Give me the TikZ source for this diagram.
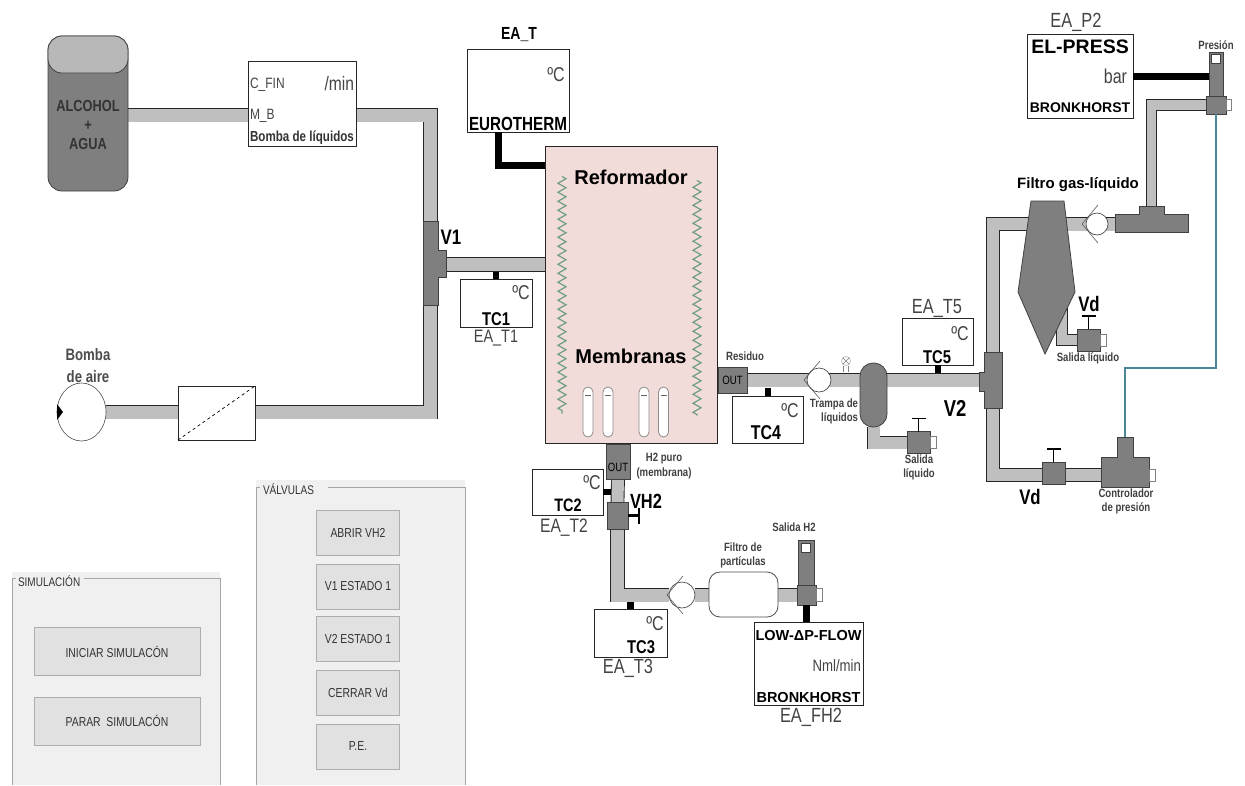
\documentclass[tikz,border=0pt]{standalone}
\usepackage{fontspec}
\setmainfont{Liberation Sans}
\newfontfamily\narrowfont[FakeStretch=0.8]{Liberation Sans}
\usetikzlibrary{backgrounds,decorations.pathmorphing,shapes.geometric}
\definecolor{pipegray}{HTML}{BFBFBF}
\definecolor{bodygray}{HTML}{7F7F7F}
\definecolor{capgray}{HTML}{B8B8B8}
\definecolor{reformpink}{HTML}{F2DCD9}
\definecolor{coilgreen}{HTML}{6E9F80}
\definecolor{linkblue}{HTML}{4C8798}
\definecolor{panelgray}{HTML}{F0F0F0}
\definecolor{buttongray}{HTML}{E1E1E1}
\definecolor{tagdark}{HTML}{444444}
\newcommand{\fs}[1]{\fontsize{#1}{#1}\selectfont}
\tikzset{
  every node/.style={inner sep=0pt,outer sep=0pt},
  pipe/.style={draw=black!85,line width=.9pt,double=pipegray,double distance=13pt,line join=miter},
  cable/.style={draw=black,line width=7pt},
  box/.style={draw=black!85,fill=white,line width=.8pt,rectangle},
  block/.style={draw=black!75,fill=bodygray,line width=.8pt,rectangle},
  outblock/.style={block,font=\narrowfont\fs{12}},
  capbox/.style={draw=black!50,fill=white,line width=.5pt,minimum width=6pt,minimum height=12pt},
  handle/.style={draw=black,line width=1.6pt},
  coil/.style={draw=coilgreen,line width=1.2pt,decorate,decoration={zigzag,amplitude=4pt,segment length=9pt}},
  title/.style={font=\bfseries\fs{20}},
  tag/.style={font=\narrowfont\fs{20.5},text=tagdark},
  unit/.style={font=\narrowfont\fs{20},text=tagdark},
  tcname/.style={font=\narrowfont\bfseries\fs{18.5}},
  vlabel/.style={font=\narrowfont\bfseries\fs{21}},
  small/.style={font=\narrowfont\bfseries\fs{12},text=black!75,align=center},
  button/.style={draw=black!32,fill=buttongray,line width=.8pt,font=\narrowfont\fs{13},text=black!80},
  panel/.style={draw=none,fill=panelgray},
  frameline/.style={draw=black!35,line width=.7pt},
}
\begin{document}
\begin{tikzpicture}[x=1pt,y=-1pt]
  \useasboundingbox (0,0) rectangle (1245,785);

  % deposito y bomba de liquidos
  \node[block,rounded corners=14pt,minimum width=80pt,minimum height=155pt] (tank) at (88,113.5) {};
  \node[draw=black!75,fill=capgray,line width=.8pt,rounded corners=14pt,minimum width=80pt,minimum height=37pt] (tankcap) at (88,54.5) {};
  \node[font=\narrowfont\bfseries\fs{16},text=black!80,align=center] (tanktext) at (88,125) {ALCOHOL\\[3pt]+\\[3pt]AGUA};
  \node[box,minimum width=108pt,minimum height=85pt] (bombaliq) at (302,103.5) {};
  \node[anchor=west,font=\narrowfont\fs{15},text=tagdark] (cfin) at (250,85) {C\_FIN};
  \node[anchor=east,font=\narrowfont\fs{19.5},text=tagdark] (minunit) at (354,84) {/min};
  \node[anchor=west,font=\narrowfont\fs{15},text=tagdark] (mb) at (250,116) {M\_B};
  \node[font=\narrowfont\bfseries\fs{14.5},text=black!80] (bombatext) at (302,138) {Bomba de l\'iquidos};

  % bomba de aire y filtro
  \node[draw=black!70,fill=white,line width=.6pt,ellipse,minimum width=49pt,minimum height=58pt] (bombaaire) at (81.5,412) {};
  \fill (bombaaire.west) ++(0,-8) -- ++(6,8) -- ++(-6,8) -- cycle;
  \node[font=\narrowfont\bfseries\fs{16.5},text=black!70,align=center] (bombalabel) at (88,365.5) {Bomba\\[6pt]de aire};
  \node[box,minimum width=77pt,minimum height=54pt] (filtroaire) at (216.5,413) {};
  \draw[dashed,line width=.7pt] (filtroaire.south west) -- (filtroaire.north east);

  % V1
  \draw[block] (423,221) -| (438,250) -| (446,277) -| (438,305) -| (423,221) -- cycle;
  \coordinate (vonetop) at (430.5,221);
  \coordinate (vonebot) at (430.5,305);
  \coordinate (voneout) at (446,264.5);
  \node[font=\narrowfont\bfseries\fs{21}] (vonelabel) at (451,237) {V1};

  % reformador
  \node[draw=black!85,fill=reformpink,line width=.8pt,minimum width=172pt,minimum height=297pt] (reform) at (631,294.5) {};
  \node[title] (reformtext) at (631,177) {Reformador};
  \node[title] (membtext) at (631,356) {Membranas};
  \draw[coil] ([xshift=17pt,yshift=118pt]reform.west) -- ([xshift=17pt,yshift=-119pt]reform.west);
  \draw[coil] ([xshift=-20pt,yshift=114pt]reform.east) -- ([xshift=-20pt,yshift=-121pt]reform.east);
  \foreach \x [count=\i] in {588,608,644,663.5} {
    \node[draw=black!45,fill=white,line width=.8pt,rounded corners=5pt,minimum width=10pt,minimum height=50pt] (tube\i) at (\x,412) {};
    \draw[black!60,line width=1pt] (tube\i.north west) ++(2,8) -- ++(6,0);
  }

  % controladores de temperatura
  \node[box,minimum width=102pt,minimum height=83pt] (eat) at (518,90.5) {};
  \node[font=\narrowfont\bfseries\fs{17.5}] (eatlabel) at (519,35) {EA\_T};
  \node[unit] (eatunit) at (556,75) {ºC};
  \node[font=\narrowfont\bfseries\fs{19}] (eatbrand) at (518,124) {EUROTHERM};
  \draw[cable] ([xshift=-20pt]eat.south) |- ([yshift=129pt]reform.west);

  \node[box,minimum width=72pt,minimum height=48pt] (tcone) at (496,303) {};
  \node[unit] (tconeunit) at (521,293) {ºC};
  \node[tcname] (tconename) at (496,319) {TC1};
  \node[tag,font=\narrowfont\fs{18}] (tconetag) at (496,338) {EA\_T1};
  \draw[draw=black,line width=6pt] (tcone.north) -- ++(0,-7);

  \node[box,minimum width=71pt,minimum height=46pt] (tctwo) at (567.5,492) {};
  \node[unit] (tctwounit) at (592,483) {ºC};
  \node[tcname,font=\narrowfont\bfseries\fs{18}] (tctwoname) at (568,505) {TC2};
  \node[tag,font=\narrowfont\fs{19.5}] (tctwotag) at (564,527.5) {EA\_T2};
  \draw[draw=black,line width=6pt] (tctwo.east) -- ++(8,0);

  \node[box,minimum width=73pt,minimum height=48pt] (tcthree) at (630.5,633) {};
  \node[unit] (tcthreeunit) at (655,624) {ºC};
  \node[tcname] (tcthreename) at (641,647) {TC3};
  \node[tag] (tcthreetag) at (628,668) {EA\_T3};
  \draw[draw=black,line width=7pt] (tcthree.north) -- ++(0,-7);

  \node[box,minimum width=71pt,minimum height=47pt] (tcfour) at (767.5,419.5) {};
  \node[unit] (tcfourunit) at (790,411) {ºC};
  \node[tcname,font=\narrowfont\bfseries\fs{20}] (tcfourname) at (766,433) {TC4};
  \draw[draw=black,line width=6pt] (tcfour.north) -- ++(0,-8);

  \node[box,minimum width=71pt,minimum height=47pt] (tcfive) at (937.5,341.5) {};
  \node[unit] (tcfiveunit) at (960,334) {ºC};
  \node[tcname] (tcfivename) at (937,357) {TC5};
  \node[tag] (tcfivetag) at (937,308) {EA\_T5};
  \draw[draw=black,line width=6pt] (tcfive.south) -- ++(0,8);

  % salidas del reformador
  \node[outblock,minimum width=29pt,minimum height=26pt] (outres) at (732.5,380) {OUT};
  \node[small] (resfont) at (745,356) {Residuo};
  \node[outblock,minimum width=24pt,minimum height=35pt] (outhtwo) at (618,461.5) {};
  \node[font=\narrowfont\fs{12}] (outhtwotext) at (618,467) {OUT};
  \node[small] (htwotext) at (664,466.5) {H2 puro\\[3pt](membrana)};
  \node[block,minimum width=21pt,minimum height=27pt] (vhtwo) at (617.5,515.5) {};
  \draw[handle,line width=3pt] (vhtwo.east) -- ++(11,0) coordinate (vhtwoend);
  \draw[handle] (vhtwoend) ++(0,-8) -- ++(0,16);
  \node[font=\narrowfont\bfseries\fs{20.5}] (vhtwolabel) at (646,501) {VH2};

  % valvulas antirretorno
  \foreach \nm/\cx/\cy/\rr in {chktrap/819/380/12,chkfilt/1097/224/11,chkhtwo/682/595/13} {
    \node[draw=black!70,fill=white,line width=.7pt,circle,minimum size=2*\rr pt] (\nm) at (\cx,\cy) {};
    \draw[black!65,line width=.6pt] (\nm.center) ++(1,-19) -- ++(-16,19) -- ++(16,19);
  }

  % trampa de liquidos
  \node[draw=black!30,fill=white,line width=.6pt,circle,minimum size=9pt] (gauge) at (846,361) {};
  \draw[black!50,line width=.5pt] (gauge.north west) -- (gauge.south east) (gauge.north east) -- (gauge.south west);
  \draw[black!50,line width=.5pt] ([xshift=-2.5pt]gauge.south) -- ++(0,6) ([xshift=2.5pt]gauge.south) -- ++(0,6);
  \node[block,rounded corners=13pt,minimum width=27pt,minimum height=64pt] (trap) at (873.5,395) {};
  \node[small,align=right,anchor=north east] (traptext) at (858,399) {Trampa de\\[2pt]l\'iquidos};

  % valvulas de drenaje
  \foreach \nm/\cx/\cy in {vdtrap/918.5/442.5,vdfilt/1088.5/340,vdctrl/1053.5/473} {
    \node[block,minimum width=23pt,minimum height=22pt] (\nm) at (\cx,\cy) {};
    \draw[handle] (\nm.north) -- ++(0,-13) ++(-7,0) -- ++(14,0);
  }
  \node[capbox] (vdtrapcap) at ([xshift=3pt]vdtrap.east) {};
  \node[capbox] (vdfiltcap) at ([xshift=3pt]vdfilt.east) {};
  \node[small] (traptsal) at (919,467.5) {Salida\\[2pt]l\'iquido};
  \node[small] (filtsal) at (1088,358) {Salida l\'iquido};
  \node[vlabel] (vdfiltlabel) at (1089,304) {Vd};
  \node[vlabel] (vdctrllabel) at (1030,497) {Vd};

  % V2
  \draw[block] (984,352) -| (1002,408) -| (984,391) -| (979,372) -| (984,352) -- cycle;
  \coordinate (vtwotop) at (993,352);
  \coordinate (vtwobot) at (993,408);
  \coordinate (vtwoin) at (979,380);
  \node[vlabel,font=\narrowfont\bfseries\fs{23}] (vtwolabel) at (955,408) {V2};

  % filtro gas-liquido
  \draw[block] (1031,201) -- (1064,201) -- (1075,292) -- (1045,354) -- (1018,292) -- cycle;
  \coordinate (filtgas) at (1047,224);
  \coordinate (filtdrain) at (1062,300);
  \node[font=\bfseries\fs{15}] (filtlabel) at (1078,185) {Filtro gas-l\'iquido};
  \draw[block] (1115,214) -| (1139,206) -| (1164,214) -| (1188,232) -| (1115,214) -- cycle;
  \coordinate (teetop) at (1151.5,206);
  \coordinate (teeleft) at (1115,224);

  % medidor de presion
  \node[block,minimum width=14pt,minimum height=44pt] (sensorp) at (1216,74) {};
  \node[draw=black!75,fill=white,line width=.8pt,minimum width=9pt,minimum height=9pt] (sensorpwin) at (1216,59) {};
  \node[block,minimum width=20pt,minimum height=18pt] (vpres) at (1216,105) {};
  \node[capbox,minimum width=5pt,minimum height=11pt] (vprescap) at ([xshift=2.5pt]vpres.east) {};
  \node[small] (preslabel) at (1216,45) {Presi\'on};
  \node[box,minimum width=106pt,minimum height=84pt] (elpress) at (1080,76) {};
  \node[tag] (elpresstag) at (1076,22) {EA\_P2};
  \node[font=\bfseries\fs{19.5}] (elpressname) at (1080,47) {EL-PRESS};
  \node[anchor=east,unit] (barunit) at (1127,76) {bar};
  \node[font=\bfseries\fs{14}] (elpressbrand) at (1080,108) {BRONKHORST};
  \draw[cable] (elpress.east) -- (sensorp.west |- elpress.east);

  % controlador de presion
  \draw[block] (1101,457) -| (1117,437) -| (1133,457) -| (1149,487) -| (1101,457) -- cycle;
  \coordinate (ctrltop) at (1125,437);
  \coordinate (ctrlleft) at (1101,475);
  \coordinate (ctrlright) at (1149,475);
  \node[capbox] (ctrlcap) at ([xshift=3pt]ctrlright) {};
  \node[small] (ctrltext) at (1126,501) {Controlador\\[2pt]de presi\'on};
  \coordinate (bluebend) at (1170,368);
  \draw[draw=linkblue,line width=2.8pt] (vpres.south) |- (bluebend) -| (ctrltop);

  % linea de H2
  \node[draw=black!70,fill=white,line width=.8pt,rounded corners=11pt,minimum width=69pt,minimum height=45pt] (filtroh) at (743.5,594.5) {};
  \node[small] (filtrohtext) at (743,555.5) {Filtro de\\[2pt]part\'iculas};
  \node[block,minimum width=16pt,minimum height=45pt] (sensorh) at (806,562.5) {};
  \node[draw=black!75,fill=white,line width=.8pt,minimum width=9pt,minimum height=9pt] (sensorhwin) at (806,547.5) {};
  \node[block,minimum width=19pt,minimum height=20pt] (vsalh) at (806.5,595) {};
  \node[capbox,minimum width=6pt,minimum height=13pt] (vsalhcap) at ([xshift=3pt]vsalh.east) {};
  \node[small] (salhlabel) at (794,527) {Salida H2};
  \node[box,minimum width=109pt,minimum height=83pt] (lowflow) at (808.5,663.5) {};
  \node[font=\bfseries\fs{14.5}] (lowname) at (808.5,635) {LOW-ΔP-FLOW};
  \node[anchor=east,font=\narrowfont\fs{16.5},text=tagdark] (lowunit) at (861,666) {Nml/min};
  \node[font=\bfseries\fs{14.5}] (lowbrand) at (808.5,697) {BRONKHORST};
  \node[tag] (lowtag) at (811,717) {EA\_FH2};
  \draw[draw=black,line width=7pt] (vsalh.south) -- (vsalh.south |- lowflow.north);

  % tuberias
  \begin{scope}[on background layer]
    \draw[pipe] ([yshift=-1.5pt]tank.east) -- ([yshift=-11.5pt]bombaliq.west);
    \draw[pipe] ([yshift=-11.5pt]bombaliq.east) -| (vonetop);
    \draw[pipe] (bombaaire.east) -- (filtroaire.west |- bombaaire.east);
    \draw[pipe] (filtroaire.east |- bombaaire.east) -| (vonebot);
    \draw[pipe] (voneout) -- (reform.west |- voneout);
    \draw[pipe] (outres.east) -- (trap.west |- outres.east);
    \draw[pipe] (trap.east |- vtwoin) -- (vtwoin);
    \draw[pipe,double distance=12pt] (trap.south) -- (trap.south |- vdtrap.west) -- (vdtrap.west);
    \draw[pipe,double distance=12pt] (vtwotop) |- (filtgas);
    \draw[pipe] (filtgas) -- (teeleft);
    \draw[pipe,double distance=9.5pt] (teetop) |- (vpres.west);
    \draw[pipe,double distance=12.5pt] (vtwobot) |- (ctrlleft);
    \draw[pipe,double distance=10pt] (filtdrain) |- (vdfilt.west);
    \draw[pipe,double distance=12pt] (outhtwo.south) -- (vhtwo.north);
    \draw[pipe] (vhtwo.south) |- (chkhtwo.west);
    \draw[pipe] (chkhtwo.east) -- (filtroh.west |- chkhtwo.east);
    \draw[pipe] (filtroh.east |- chkhtwo.east) -- (vsalh.west);
    % paneles
    \node[panel,minimum width=208pt,minimum height=213pt] (panelsim) at (116,678.5) {};
    \node[panel,minimum width=209pt,minimum height=305pt] (panelval) at (360.5,632.5) {};
  \end{scope}

  % paneles de botones
  \draw[frameline] (12,578) -- (16,578) (84,578) -- (220,578) -- (220,785);
  \draw[frameline] (12,578) -- (12,785);
  \node[anchor=west,font=\narrowfont\fs{12.5},text=black!80] (simtitle) at (18,581) {SIMULACIÓN};
  \node[button,minimum width=166pt,minimum height=48pt] (btnstart) at (117,651.5) {INICIAR SIMULACÓN};
  \node[button,minimum width=166pt,minimum height=48pt] (btnstop) at (117,721) {PARAR\ \ SIMULACÓN};
  \draw[frameline] (256,487) -- (260,487) (328,487) -- (465,487) -- (465,785);
  \draw[frameline] (256,487) -- (256,785);
  \node[anchor=west,font=\narrowfont\fs{12.5},text=black!80] (valtitle) at (263,489) {VÁLVULAS};
  \foreach \y/\txt [count=\i] in {532.5/ABRIR VH2,586.5/V1 ESTADO 1,639/V2 ESTADO 1,692.5/CERRAR Vd,746.5/P.E.}
    \node[button,minimum width=83pt,minimum height=45pt] (btnval\i) at (358,\y) {\txt};
\end{tikzpicture}
\end{document}
